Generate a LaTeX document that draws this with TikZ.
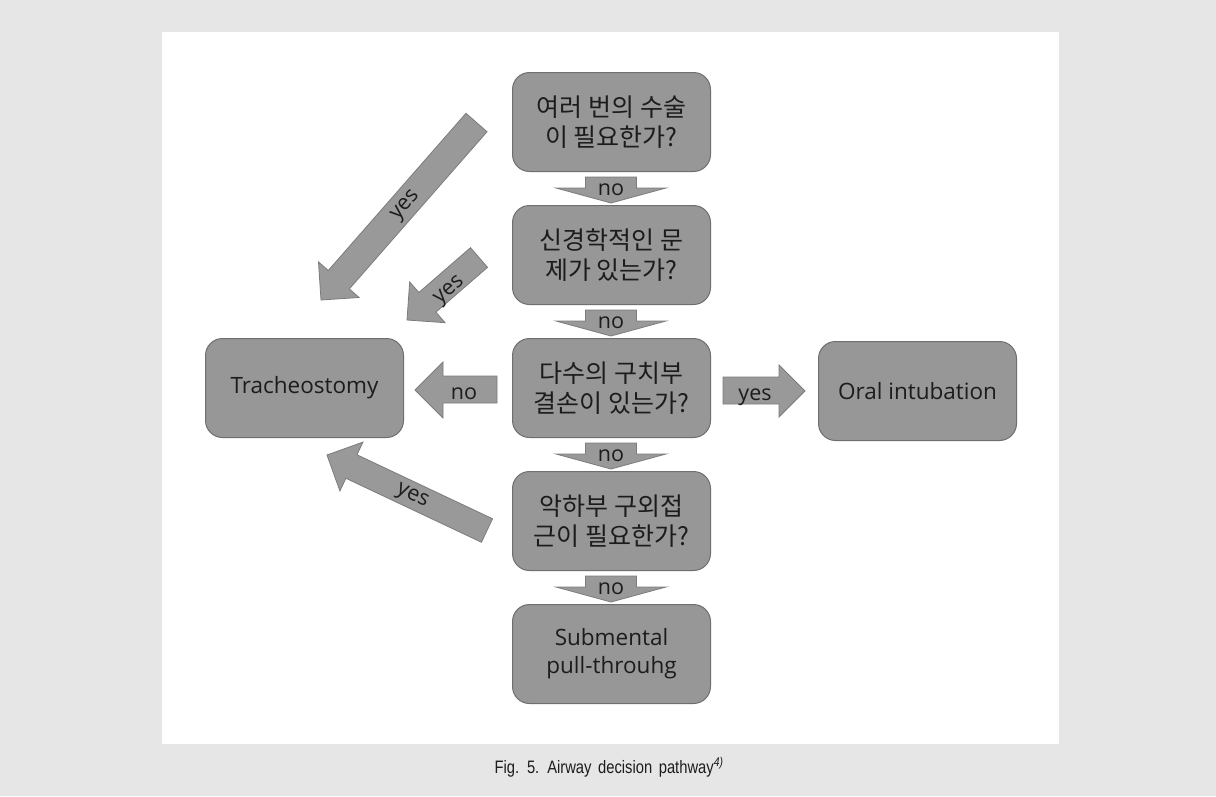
\documentclass[tikz,border=0pt]{standalone}
\usepackage{fontspec}
\usetikzlibrary{calc}
\newfontfamily\kr{Noto Sans CJK KR}
\newfontfamily\en{Open Sans}
\newfontfamily\capfont[FakeStretch=0.82,WordSpace=1.6]{Liberation Sans}
\definecolor{bg}{HTML}{E6E6E6}
\definecolor{boxfill}{HTML}{979797}
\definecolor{boxdraw}{HTML}{6F6F6F}
\definecolor{arrfill}{HTML}{999999}
\definecolor{arrdraw}{HTML}{7C7C7C}
\definecolor{txt}{HTML}{1C1C1C}
\newcommand\varrowshape[3]{% xc, top, tip
  \draw[blockarrow] (#1-25.5,#2) -- (#1+25.5,#2) -- (#1+25.5,#2+11) -- (#1+55,#2+11)
    -- (#1,#3) -- (#1-55,#2+11) -- (#1-25.5,#2+11) -- cycle;}
\newcommand\darrowshape[3]{% tail, tip, shaft half width
  \coordinate (dt) at (#1);
  \coordinate (dh) at (#2);
  \coordinate (dn) at ($(dh)!27pt!(dt)$);
  \draw[blockarrow] ($(dt)!#3!90:(dh)$) -- ($(dn)!#3!-90:(dt)$) -- ($(dn)!27pt!-90:(dt)$)
    -- (dh) -- ($(dn)!27pt!90:(dt)$) -- ($(dn)!#3!90:(dt)$) -- ($(dt)!#3!-90:(dh)$) -- cycle;}
\begin{document}
\begin{tikzpicture}[x=1pt,y=-1pt,
  decision/.style={draw=boxdraw, fill=boxfill, line width=1pt, rounded corners=17pt,
    minimum width=198pt, minimum height=99pt, inner sep=0pt, text=txt, align=center,
    font=\kr\fontsize{25}{30}\selectfont},
  endbox/.style={decision, font=\en\fontsize{22.5}{28}\selectfont},
  blockarrow/.style={draw=arrdraw, fill=arrfill, line width=0.8pt, line join=miter},
  lbl/.style={text=txt, inner sep=0pt, font=\en\fontsize{21.5}{24}\selectfont}]
\useasboundingbox (0,0) rectangle (1216,796);
\fill[bg] (0,0) rectangle (1216,796);
\fill[white] (162,32) rectangle (1059,744);

% boxes
\node[decision, anchor=north west] (q1) at (512,72) {여러 번의 수술\\이 필요한가?};
\node[decision, anchor=north west] (q2) at (512,205) {신경학적인 문\\제가 있는가?};
\node[decision, anchor=north west] (q3) at (512,338) {다수의 구치부\\결손이 있는가?};
\node[decision, anchor=north west] (q4) at (512,471) {악하부 구외접\\근이 필요한가?};
\node[endbox, anchor=north west] (sub) at (512,604) {Submental\\pull-throuhg};
\node[endbox, anchor=north west] (tra) at (205,338) {Tracheostomy};
\node[endbox, anchor=north west] (oral) at (818,341) {Oral intubation};

% down arrows "no"
\varrowshape{611}{177}{203}
\node[lbl, anchor=base] (n1) at (611,195) {no};
\varrowshape{611}{310}{336}
\node[lbl, anchor=base] (n2) at (611,328) {no};
\varrowshape{611}{443}{469}
\node[lbl, anchor=base] (n3) at (611,461) {no};
\varrowshape{611}{576}{602}
\node[lbl, anchor=base] (n4) at (611,594) {no};

% left arrow "no"
\draw[blockarrow] (497,376) -- (443,376) -- (443,362) -- (415,390) -- (443,418) -- (443,403) -- (497,403) -- cycle;
\node[lbl, anchor=base] (n5) at (464,399) {no};

% right arrow "yes"
\draw[blockarrow] (723,377) -- (779,377) -- (779,365) -- (805,391) -- (779,417) -- (779,404) -- (723,404) -- cycle;
\node[lbl, anchor=base] (y1) at (755,400) {yes};

% diagonal arrows "yes"
\darrowshape{476.5,122.5}{321,300}{14pt}
\node[lbl, rotate=48.8] (y2) at (406,206) {yes};
\darrowshape{479,257.5}{407,320}{13pt}
\node[lbl, rotate=41] (y3) at (450,291) {yes};
\darrowshape{487,530.5}{327,455}{13pt}
\node[lbl, rotate=-25.3] (y4) at (412,497) {yes};

% caption
\node[font=\capfont\fontsize{18}{20}\selectfont, text=txt, anchor=base, inner sep=0pt] (cap)
  at (609,773) {Fig. 5. Airway decision pathway\textsuperscript{\itshape 4)}};
\end{tikzpicture}
\end{document}
